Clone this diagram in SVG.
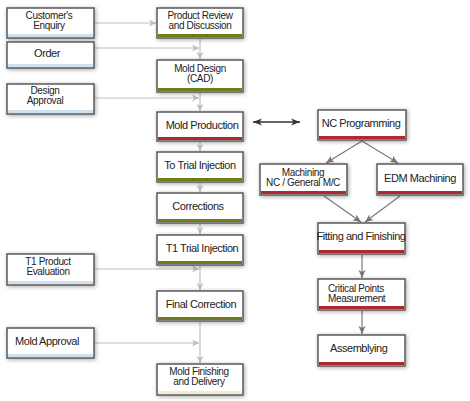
<svg xmlns="http://www.w3.org/2000/svg" width="470" height="401" viewBox="0 0 470 401">
<defs>
<filter id="sh" x="-20%" y="-30%" width="140%" height="160%">
<feDropShadow dx="1" dy="1" stdDeviation="2" flood-color="#000" flood-opacity="0.35"/>
</filter>
<marker id="al" markerWidth="8" markerHeight="8" refX="7" refY="4" orient="auto" markerUnits="userSpaceOnUse">
<path d="M0,0.5 L7,4 L0,7.5 L2,4 Z" fill="#bdbdbd"/>
</marker>
<marker id="ad" markerWidth="9" markerHeight="9" refX="8" refY="4.5" orient="auto" markerUnits="userSpaceOnUse">
<path d="M0,1 L8,4.5 L0,8 L2,4.5 Z" fill="#777"/>
</marker>
<marker id="ak" markerWidth="10" markerHeight="9" refX="9" refY="4.5" orient="auto-start-reverse" markerUnits="userSpaceOnUse">
<path d="M0,1 L9,4.5 L0,8 L2.5,4.5 Z" fill="#333"/>
</marker>
</defs>
<style>
.box{fill:#fff;stroke:#5a5a5a;stroke-width:1.5;filter:url(#sh)}
.t{font-family:"Liberation Sans",Arial,sans-serif;font-size:11px;fill:#222;letter-spacing:-0.45px;text-anchor:middle}
.s{font-size:10px;letter-spacing:-0.35px}
.l{text-anchor:start}
.blue{fill:#cfe1ef}
.green{fill:#6d7d1c}
.red{fill:#b2262d}
.yel{fill:#f4eccd}
.cl{stroke:#c0c0c0;stroke-width:1.2;fill:none;marker-end:url(#al)}
.cd{stroke:#7a7a7a;stroke-width:1.2;fill:none;marker-end:url(#ad)}
</style>
<g id="connectors">
<line class="cl" x1="95" y1="23" x2="156" y2="23"/>
<line class="cl" x1="95" y1="48" x2="199" y2="48"/>
<line class="cl" x1="200" y1="39" x2="200" y2="59"/>
<line class="cl" x1="95" y1="98" x2="199" y2="98"/>
<line class="cl" x1="200" y1="93" x2="200" y2="111"/>
<line class="cl" x1="200" y1="142" x2="200" y2="151"/>
<line class="cl" x1="200" y1="183" x2="200" y2="192"/>
<line class="cl" x1="200" y1="224" x2="200" y2="234"/>
<line class="cl" x1="200" y1="266" x2="200" y2="290"/>
<line class="cl" x1="95" y1="269" x2="199" y2="269"/>
<line class="cl" x1="200" y1="322" x2="200" y2="363"/>
<line class="cl" x1="95" y1="343" x2="199" y2="343"/>
<line stroke="#333" stroke-width="1.3" x1="253" y1="122" x2="300" y2="122" marker-start="url(#ak)" marker-end="url(#ak)"/>
<line class="cd" x1="362" y1="141" x2="326" y2="163"/>
<line class="cd" x1="362" y1="141" x2="398" y2="163"/>
<line class="cd" x1="324" y1="196" x2="361" y2="222"/>
<line class="cd" x1="400" y1="196" x2="365" y2="222"/>
<line class="cd" x1="362" y1="255" x2="362" y2="278"/>
<line class="cd" x1="362" y1="311" x2="362" y2="334"/>
</g>
<g id="customers-enquiry">
<rect class="box" x="7" y="8" width="87" height="30"/>
<rect class="blue" x="8" y="34" width="85" height="3"/>
<text class="t s" x="49" y="19">Customer's</text>
<text class="t s" x="49" y="28.5">Enquiry</text>
</g>
<g id="order">
<rect class="box" x="7" y="42" width="87" height="26"/>
<rect class="blue" x="8" y="64" width="85" height="3"/>
<text class="t" x="47" y="57">Order</text>
</g>
<g id="design-approval">
<rect class="box" x="7" y="84" width="87" height="30"/>
<rect class="blue" x="8" y="110" width="85" height="3"/>
<text class="t s" x="45" y="94">Design</text>
<text class="t s" x="45" y="103.5">Approval</text>
</g>
<g id="product-review">
<rect class="box" x="157" y="8" width="86" height="30"/>
<rect class="green" x="158" y="34" width="84" height="3"/>
<text class="t s" x="200" y="19">Product Review</text>
<text class="t s" x="200" y="28.5">and Discussion</text>
</g>
<g id="mold-design">
<rect class="box" x="157" y="60" width="86" height="32"/>
<rect class="green" x="158" y="88" width="84" height="3"/>
<text class="t s" x="200" y="72">Mold Design</text>
<text class="t s" x="200" y="81.5">(CAD)</text>
</g>
<g id="mold-production">
<rect class="box" x="157" y="112" width="86" height="29"/>
<rect class="red" x="158" y="137" width="84" height="3"/>
<text class="t" x="202" y="129">Mold Production</text>
</g>
<g id="to-trial-injection">
<rect class="box" x="157" y="152" width="86" height="30"/>
<rect class="green" x="158" y="178" width="84" height="3"/>
<text class="t" x="200" y="169">To  Trial Injection</text>
</g>
<g id="corrections">
<rect class="box" x="157" y="193" width="86" height="30"/>
<rect class="green" x="158" y="219" width="84" height="3"/>
<text class="t" x="198" y="210">Corrections</text>
</g>
<g id="t1-trial-injection">
<rect class="box" x="157" y="235" width="86" height="30"/>
<rect class="green" x="158" y="261" width="84" height="3"/>
<text class="t" x="202" y="252">T1 Trial Injection</text>
</g>
<g id="t1-product-evaluation">
<rect class="box" x="7" y="254" width="87" height="31"/>
<rect class="blue" x="8" y="281" width="85" height="3"/>
<text class="t s" x="48" y="265">T1 Product</text>
<text class="t s" x="48" y="274.5">Evaluation</text>
</g>
<g id="final-correction">
<rect class="box" x="157" y="291" width="86" height="30"/>
<rect class="green" x="158" y="317" width="84" height="3"/>
<text class="t" x="201" y="308">Final Correction</text>
</g>
<g id="mold-approval">
<rect class="box" x="7" y="328" width="87" height="30"/>
<rect class="blue" x="8" y="354" width="85" height="3"/>
<text class="t" x="47" y="345">Mold Approval</text>
</g>
<g id="mold-finishing">
<rect class="box" x="157" y="364" width="86" height="31"/>
<rect class="yel" x="158" y="391" width="84" height="3"/>
<text class="t s" x="199" y="375">Mold Finishing</text>
<text class="t s" x="199" y="384.5">and Delivery</text>
</g>
<g id="nc-programming">
<rect class="box" x="318" y="110" width="88" height="30"/>
<rect class="red" x="319" y="136" width="86" height="3"/>
<text class="t" x="361" y="127">NC Programming</text>
</g>
<g id="machining">
<rect class="box" x="260" y="164" width="87" height="31"/>
<rect class="red" x="261" y="191" width="85" height="3"/>
<text class="t s" x="303" y="176">Machining</text>
<text class="t s" x="303" y="185.5">NC / General M/C</text>
</g>
<g id="edm-machining">
<rect class="box" x="377" y="164" width="86" height="31"/>
<rect class="red" x="378" y="191" width="84" height="3"/>
<text class="t" x="420" y="182">EDM Machining</text>
</g>
<g id="fitting-finishing">
<rect class="box" x="318" y="223" width="87" height="31"/>
<rect class="red" x="319" y="250" width="85" height="3"/>
<text class="t" x="361" y="240">Fitting and Finishing</text>
</g>
<g id="critical-points">
<rect class="box" x="318" y="279" width="87" height="31"/>
<rect class="red" x="319" y="306" width="85" height="3"/>
<text class="t s l" x="328" y="292">Critical Points</text>
<text class="t s l" x="328" y="301.5">Measurement</text>
</g>
<g id="assemblying">
<rect class="box" x="318" y="335" width="87" height="31"/>
<rect class="red" x="319" y="362" width="85" height="3"/>
<text class="t l" x="330" y="352">Assemblying</text>
</g>
</svg>
